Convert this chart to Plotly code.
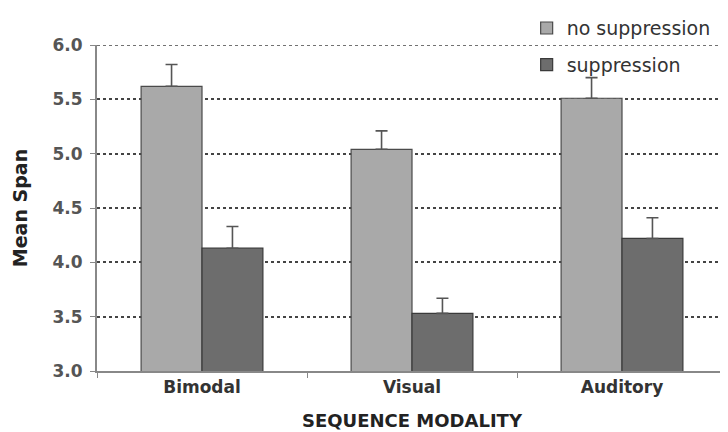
import plotly.graph_objects as go

categories = ["Bimodal", "Visual", "Auditory"]
no_supp = [5.62, 5.04, 5.51]
no_supp_err = [0.20, 0.17, 0.19]
supp = [4.13, 3.53, 4.22]
supp_err = [0.20, 0.14, 0.19]
series_names = ["no suppression", "suppression"]

font_family = "DejaVu Sans, Verdana, sans-serif"

fig = go.Figure()
fig.add_trace(go.Bar(
    x=categories, y=no_supp, name=series_names[0], legendgroup="a",
    marker=dict(color="#a9a9a9", line=dict(color="#4a4a4a", width=1.2)),
    error_y=dict(type="data", array=no_supp_err, arrayminus=[0]*3, symmetric=False,
                 color="#555555", thickness=1.6, width=6),
))
fig.add_trace(go.Bar(
    x=categories, y=supp, name=series_names[1], legendgroup="b",
    marker=dict(color="#6d6d6d", line=dict(color="#3a3a3a", width=1.2)),
    error_y=dict(type="data", array=supp_err, arrayminus=[0]*3, symmetric=False,
                 color="#555555", thickness=1.6, width=6),
))

# dotted line at the top of the axis (6.0), like the other gridlines
fig.add_shape(type="line", xref="paper", yref="y", x0=0, x1=1, y0=6, y1=6,
              line=dict(color="#444444", width=1.5, dash="dot"), layer="below")

fig.update_layout(
    width=728, height=432,
    margin=dict(l=89, r=9, t=37, b=69, autoexpand=False),
    paper_bgcolor="white", plot_bgcolor="white",
    barmode="group", bargap=0.42, bargroupgap=0,
    font=dict(family=font_family, color="#333333"),
    showlegend=True,
    legend=dict(x=0.682, y=1.11, xanchor="left", yanchor="top",
                font=dict(size=19, color="#333333"), bgcolor="rgba(0,0,0,0)",
                itemwidth=30, tracegroupgap=9, traceorder="grouped"),
    xaxis=dict(
        showline=True, linecolor="#888888", linewidth=2,
        ticks="outside", ticklen=5, tickcolor="#888888", tickson="boundaries",
        tickfont=dict(size=17, color="#333333", family=font_family, weight="bold"),
        title=dict(text="<b>SEQUENCE MODALITY</b>", font=dict(size=18, color="#222222"), standoff=18),
        showgrid=False, automargin=False,
    ),
    yaxis=dict(
        range=[3, 6], dtick=0.5, tickformat=".1f",
        showline=True, linecolor="#888888", linewidth=2,
        ticks="outside", ticklen=5, tickcolor="#888888", ticklabelstandoff=4,
        tickfont=dict(size=17, color="#555555", family=font_family, weight="bold"),
        showgrid=True, gridcolor="#444444", gridwidth=1.5, griddash="dot",
        title=dict(text="<b>Mean Span</b>", font=dict(size=19, color="#222222"), standoff=20),
        zeroline=False, automargin=False,
    ),
)

fig.write_html("out.html")
